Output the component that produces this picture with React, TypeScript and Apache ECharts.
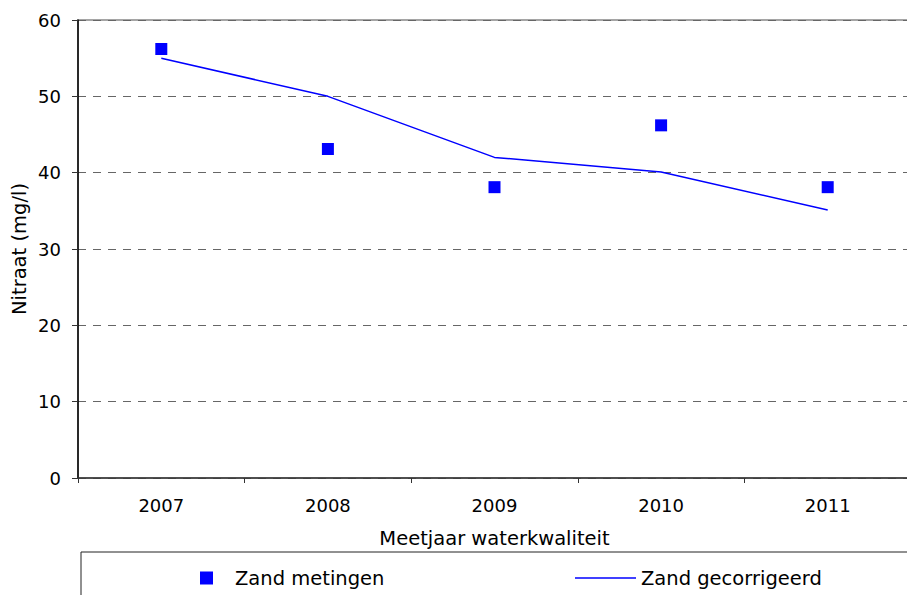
import React, { useEffect, useRef } from "react";
import * as echarts from "echarts";

const years = ["2007", "2008", "2009", "2010", "2011"];
const metingen = [56.2, 43.1, 38.1, 46.2, 38.1];
const gecorrigeerd = [55.0, 50.0, 42.0, 40.1, 35.1];

const FONT = "DejaVu Sans";
const TXT = 19.5;

export default function App() {
  const ref = useRef<HTMLDivElement>(null);
  useEffect(() => {
    if (!ref.current) return;
    const chart = echarts.init(ref.current, undefined, { renderer: "svg" });
    chart.setOption({
      animation: false,
      backgroundColor: "#ffffff",
      textStyle: { fontFamily: FONT },
      grid: {
        left: 78,
        top: 20,
        width: 833,
        height: 458,
        show: true,
        borderColor: "#888888",
        borderWidth: 1.5,
        backgroundColor: "transparent",
        containLabel: false,
        outerBoundsMode: "none",
      },
      xAxis: {
        type: "category",
        data: years,
        boundaryGap: true,
        name: "Meetjaar waterkwaliteit",
        nameLocation: "middle",
        nameGap: 50,
        nameMoveOverlap: false,
        nameTextStyle: { fontFamily: FONT, fontSize: TXT, color: "#000" },
        axisLine: { lineStyle: { color: "#333", width: 1.5 } },
        axisTick: { show: true, length: 5, inside: false, lineStyle: { color: "#333" } },
        axisLabel: { fontFamily: FONT, fontSize: 18, color: "#000", margin: 18 },
        splitLine: { show: false },
      },
      yAxis: {
        type: "value",
        min: 0,
        max: 60,
        interval: 10,
        name: "Nitraat (mg/l)",
        nameLocation: "middle",
        nameGap: 49,
        nameMoveOverlap: false,
        nameTextStyle: { fontFamily: FONT, fontSize: TXT, color: "#000" },
        axisLine: { show: true, lineStyle: { color: "#000", width: 1.5 } },
        axisTick: { show: true, length: 6, lineStyle: { color: "#333" } },
        axisLabel: { fontFamily: FONT, fontSize: 18, color: "#000", margin: 17 },
        splitLine: { show: true, lineStyle: { color: "#666", type: [8, 7], width: 1 } },
      },
      legend: [
        {
          data: [{ name: "Zand metingen", icon: "rect" }],
          left: 200,
          top: 568,
          padding: 0,
          itemWidth: 13,
          itemHeight: 13,
          textStyle: { fontFamily: FONT, fontSize: TXT, color: "#000", padding: [0, 0, 0, 17] },
        },
        {
          data: [{ name: "Zand gecorrigeerd", icon: "rect" }],
          left: 575,
          top: 568,
          padding: 0,
          itemWidth: 61,
          itemHeight: 1.5,
          textStyle: { fontFamily: FONT, fontSize: TXT, color: "#000", padding: [0, 0, 0, 0] },
        },
      ],
      graphic: [
        {
          type: "rect",
          shape: { x: 81, y: 552, width: 900, height: 80 },
          style: { fill: "none", stroke: "#222", lineWidth: 1 },
          silent: true,
        },
      ],
      series: [
        {
          name: "Zand gecorrigeerd",
          type: "line",
          data: gecorrigeerd,
          symbol: "none",
          lineStyle: { color: "#0000ff", width: 1.5 },
          itemStyle: { color: "#0000ff" },
          z: 2,
        },
        {
          name: "Zand metingen",
          type: "scatter",
          data: metingen,
          symbol: "rect",
          symbolSize: 12,
          itemStyle: { color: "#0000ff", opacity: 1 },
          z: 3,
        },
      ],
    });
    return () => chart.dispose();
  }, []);
  return (
    <div
      ref={ref}
      style={{ position: "absolute", left: 0, top: 0, width: 907, height: 595 }}
    />
  );
}
